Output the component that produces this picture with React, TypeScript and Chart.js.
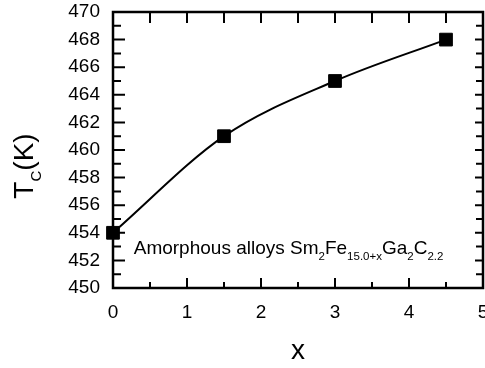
import React, { useEffect, useRef } from 'react';
import { Chart, registerables } from 'chart.js';

Chart.register(...registerables);

// ---- data ----
const xValues = [0, 1.5, 3, 4.5];
const tcValues = [454, 461, 465, 468];
const xTickValues = [0, 1, 2, 3, 4, 5];
const yTickValues = [450, 452, 454, 456, 458, 460, 462, 464, 466, 468, 470];
const xTitle = 'x';
const yTitleParts = [
  { text: 'T', sub: false },
  { text: 'C', sub: true },
  { text: '(K)', sub: false },
];
const annotationParts = [
  { text: 'Amorphous alloys Sm', sub: false },
  { text: '2', sub: true },
  { text: 'Fe', sub: false },
  { text: '15.0+x', sub: true },
  { text: 'Ga', sub: false },
  { text: '2', sub: true },
  { text: 'C', sub: false },
  { text: '2.2', sub: true },
];

const FONT = '"Liberation Sans", Arial, Helvetica, sans-serif';

function mids(arr: number[]) {
  const out: number[] = [];
  for (let i = 0; i < arr.length - 1; i++) out.push((arr[i] + arr[i + 1]) / 2);
  return out;
}

function drawRich(ctx: CanvasRenderingContext2D, parts: { text: string; sub: boolean }[], x: number, y: number, mainSize: number, subSize: number, subShift: number) {
  let cx = x;
  for (const p of parts) {
    ctx.font = `${p.sub ? subSize : mainSize}px ${FONT}`;
    ctx.fillText(p.text, cx, p.sub ? y + subShift : y);
    cx += ctx.measureText(p.text).width;
  }
  return cx - x;
}

function measureRich(ctx: CanvasRenderingContext2D, parts: { text: string; sub: boolean }[], mainSize: number, subSize: number) {
  let w = 0;
  for (const p of parts) {
    ctx.font = `${p.sub ? subSize : mainSize}px ${FONT}`;
    w += ctx.measureText(p.text).width;
  }
  return w;
}

const framePlugin = {
  id: 'frameTicks',
  beforeDatasetsDraw(chart: any) {
    const { ctx, chartArea: a, scales } = chart;
    const xs = scales.x;
    const ys = scales.y;
    ctx.save();
    ctx.strokeStyle = '#000';
    ctx.lineCap = 'butt';
    // frame
    ctx.lineWidth = 2.5;
    ctx.strokeRect(a.left, a.top, a.right - a.left, a.bottom - a.top);
    ctx.lineWidth = 2;
    ctx.beginPath();
    // bottom & top ticks
    for (const v of xTickValues) {
      const px = xs.getPixelForValue(v);
      ctx.moveTo(px, a.bottom); ctx.lineTo(px, a.bottom - 10);
      ctx.moveTo(px, a.top); ctx.lineTo(px, a.top + 11);
    }
    for (const v of mids(xTickValues)) {
      const px = xs.getPixelForValue(v);
      ctx.moveTo(px, a.bottom); ctx.lineTo(px, a.bottom - 6);
      ctx.moveTo(px, a.top); ctx.lineTo(px, a.top + 11);
    }
    // left & right ticks
    for (const v of yTickValues) {
      const py = ys.getPixelForValue(v);
      ctx.moveTo(a.left, py); ctx.lineTo(a.left + 12, py);
      ctx.moveTo(a.right, py); ctx.lineTo(a.right - 8, py);
    }
    for (const v of mids(yTickValues)) {
      const py = ys.getPixelForValue(v);
      ctx.moveTo(a.left, py); ctx.lineTo(a.left + 8, py);
      ctx.moveTo(a.right, py); ctx.lineTo(a.right - 7, py);
    }
    ctx.stroke();
    ctx.restore();
  },
  afterDraw(chart: any) {
    const { ctx, chartArea: a, scales } = chart;
    ctx.save();
    ctx.fillStyle = '#000';
    ctx.textBaseline = 'alphabetic';
    ctx.textAlign = 'left';
    // annotation
    const ax = scales.x.getPixelForValue(0.28);
    const ay = scales.y.getPixelForValue(452.45);
    drawRich(ctx, annotationParts, ax, ay, 19, 11.5, 6);
    // y title (rotated)
    const w = measureRich(ctx, yTitleParts, 28, 15);
    const cy = (a.top + a.bottom) / 2 + 16;
    ctx.translate(33, cy + w / 2);
    ctx.rotate(-Math.PI / 2);
    drawRich(ctx, yTitleParts, 0, 0, 28, 15, 8);
    ctx.restore();
  },
};

export default function App() {
  const canvasRef = useRef<HTMLCanvasElement | null>(null);

  useEffect(() => {
    const canvas = canvasRef.current;
    if (!canvas) return;
    const tickFont = { family: FONT, size: 19 };
    const chart = new Chart(canvas, {
      type: 'line',
      data: {
        datasets: [
          {
            data: xValues.map((x, i) => ({ x, y: tcValues[i] })),
            borderColor: '#000',
            borderWidth: 2,
            cubicInterpolationMode: 'monotone',
            pointStyle: 'rect',
            pointRadius: 9,
            pointBackgroundColor: '#000',
            pointBorderColor: '#000',
            pointBorderWidth: 1,
            clip: false as any,
          },
        ],
      },
      options: {
        animation: false,
        responsive: false,
        maintainAspectRatio: false,
        layout: { autoPadding: false, padding: { top: 12, right: 2, left: 0, bottom: 0 } },
        plugins: { legend: { display: false }, tooltip: { enabled: false } },
        scales: {
          x: {
            type: 'linear',
            min: 0,
            max: 5,
            afterBuildTicks: (s: any) => { s.ticks = xTickValues.map((v) => ({ value: v })); },
            afterFit: (s: any) => { s.height = 80; s.paddingLeft = 0; s.paddingRight = 0; },
            ticks: { color: '#000', font: tickFont, padding: 13, maxRotation: 0, autoSkip: false },
            grid: { display: false, drawTicks: false },
            border: { display: false },
            title: { display: true, text: xTitle, color: '#000', font: { family: FONT, size: 28 }, padding: { top: 0, bottom: 0 } },
          },
          y: {
            type: 'linear',
            min: 450,
            max: 470,
            afterBuildTicks: (s: any) => { s.ticks = yTickValues.map((v) => ({ value: v })); },
            afterFit: (s: any) => { s.width = 113; s.paddingTop = 0; s.paddingBottom = 0; },
            ticks: { color: '#000', font: tickFont, padding: 13, autoSkip: false },
            grid: { display: false, drawTicks: false },
            border: { display: false },
          },
        },
      },
      plugins: [framePlugin],
    } as any);
    return () => chart.destroy();
  }, []);

  return (
    <div style={{ position: 'fixed', left: 0, top: 0, width: 485, height: 368, background: '#fff' }}>
      <canvas ref={canvasRef} width={485} height={368} style={{ width: 485, height: 368, display: 'block' }} />
    </div>
  );
}
